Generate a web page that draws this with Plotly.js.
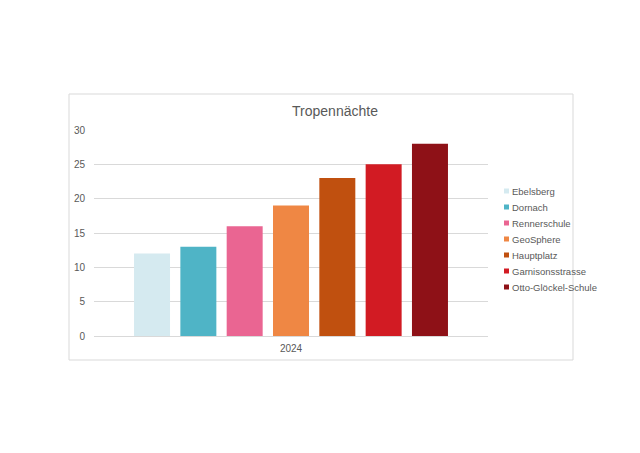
<!DOCTYPE html>
<html>
<head>
<meta charset="utf-8">
<script src="https://cdn.plot.ly/plotly-3.0.1.min.js"></script>
<style>
html,body{margin:0;padding:0;background:#fff;}
#chart{width:640px;height:453px;}
</style>
</head>
<body>
<div id="chart"></div>
<script>
const categories = ["2024"];
const stations = ["Ebelsberg","Dornach","Rennerschule","GeoSphere","Hauptplatz","Garnisonsstrasse","Otto-Glöckel-Schule"];
const values = [12, 13, 16, 19, 23, 25, 28];
const colors = ["#d5eaf0","#4fb4c6","#ea6592","#ef8744","#c0500f","#d21b23","#8e1117"];

const traces = stations.map((name, i) => ({
  type: "bar",
  name: name,
  x: categories,
  y: [values[i]],
  marker: {color: colors[i]},
  hoverinfo: "name+y"
}));

const L = 94, R = 488, T = 130, B = 336;
const W = R - L, H = B - T;
const px = v => (v - L) / W;
const py = v => (B - v) / H;

// legend layout (positions in pixels)
const legTop = 191, legStep = 16, legMarkX = 504, legTextX = 510;
const shapes = [{
  type: "rect", xref: "paper", yref: "paper",
  x0: px(69), x1: px(573), y0: py(360), y1: py(94),
  line: {color: "#d9d9d9", width: 1}, fillcolor: "rgba(0,0,0,0)", layer: "below"
}];
const annotations = [];
stations.forEach((name, i) => {
  const yc = legTop + legStep * i;
  shapes.push({
    type: "rect", xref: "paper", yref: "paper",
    x0: px(legMarkX), x1: px(legMarkX + 5), y0: py(yc + 2.5), y1: py(yc - 2.5),
    line: {width: 0}, fillcolor: colors[i]
  });
  annotations.push({
    xref: "paper", yref: "paper", x: px(legTextX), y: py(yc),
    xanchor: "left", yanchor: "middle", showarrow: false,
    text: name, font: {size: 9.5, color: "#595959"}
  });
});

const layout = {
  width: 640, height: 453,
  margin: {l: L, r: 640 - R, t: T, b: 453 - B, pad: 0},
  paper_bgcolor: "#ffffff",
  plot_bgcolor: "#ffffff",
  font: {family: "Liberation Sans, Arial, sans-serif", color: "#595959", size: 11},
  barmode: "group",
  bargap: 0.177,
  bargroupgap: 0.223,
  showlegend: false,
  title: {text: "Tropennächte", font: {size: 14, color: "#595959"}, x: 335/640, xanchor: "center", y: 1 - 111/453, yanchor: "middle"},
  xaxis: {
    type: "category",
    showgrid: false, showline: false, zeroline: false,
    ticks: "", tickfont: {size: 10, color: "#595959"},
    ticklabelstandoff: 5,
    fixedrange: true
  },
  yaxis: {
    range: [0, 30], dtick: 5, tick0: 0,
    showgrid: true, gridcolor: "#d9d9d9", gridwidth: 1,
    zeroline: true, zerolinecolor: "#d9d9d9", zerolinewidth: 1,
    showline: false, ticks: "", ticklen: 0,
    ticklabelstandoff: 8,
    tickfont: {size: 10, color: "#595959"},
    fixedrange: true
  },
  shapes: shapes,
  annotations: annotations
};

Plotly.newPlot("chart", traces, layout, {displayModeBar: false, staticPlot: true});
</script>
</body>
</html>
